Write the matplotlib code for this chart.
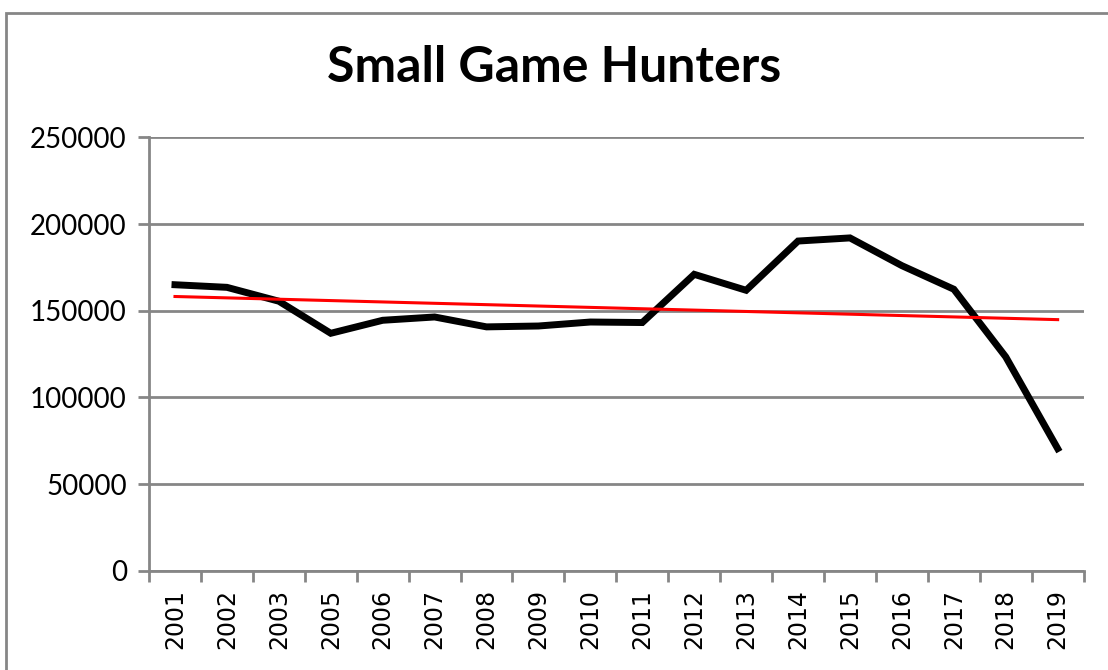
import numpy as np
import matplotlib
matplotlib.use('Agg')
import matplotlib.pyplot as plt
from matplotlib.patches import Rectangle

years = ['2001', '2002', '2003', '2005', '2006', '2007', '2008', '2009', '2010',
         '2011', '2012', '2013', '2014', '2015', '2016', '2017', '2018', '2019']
hunters = [165000, 163500, 155500, 137000, 144500, 146400, 140700, 141200, 143500,
           143200, 171000, 161800, 190200, 192000, 176000, 162400, 123400, 70500]

x = np.arange(len(years))
# linear trend line
slope, intercept = np.polyfit(x, hunters, 1)
trend = slope * x + intercept

fig = plt.figure(figsize=(11.08, 6.7), dpi=100)
ax = fig.add_axes([0.1345, 0.148, 0.8435, 0.647])

ax.plot(x, hunters, color='black', linewidth=5, solid_joinstyle='miter', zorder=3)
ax.plot(x, trend, color='red', linewidth=2.2, zorder=4)

ax.set_xlim(-0.5, len(years) - 0.5)
ax.set_ylim(0, 250000)
ax.set_yticks(range(0, 250001, 50000))
ax.set_yticklabels([str(v) for v in range(0, 250001, 50000)], fontsize=20, family='Lato')
ax.yaxis.grid(True, color='#868686', linewidth=2)
ax.set_axisbelow(True)

ax.set_xticks(x)
ax.set_xticklabels(years, rotation=90, fontsize=17, family='DejaVu Sans')
ax.set_xticks(np.arange(-0.5, len(years), 1), minor=True)
ax.tick_params(axis='x', which='major', length=0, pad=13)
ax.tick_params(axis='x', which='minor', length=8, width=2, color='#868686')
ax.tick_params(axis='y', length=8, width=2, color='#868686', pad=8)

for s in ['top', 'right']:
    ax.spines[s].set_visible(False)
for s in ['left', 'bottom']:
    ax.spines[s].set_color('#868686')
    ax.spines[s].set_linewidth(2)

fig.text(0.5, 0.9, 'Small Game Hunters', ha='center', va='center',
         fontsize=36, fontweight='bold', family='Lato')

# chart area border
fig.patches.append(Rectangle((0.005, -0.02), 1.1, 1.0, transform=fig.transFigure,
                             fill=False, edgecolor='#868686', linewidth=2))

plt.savefig('out.png', dpi=100)
